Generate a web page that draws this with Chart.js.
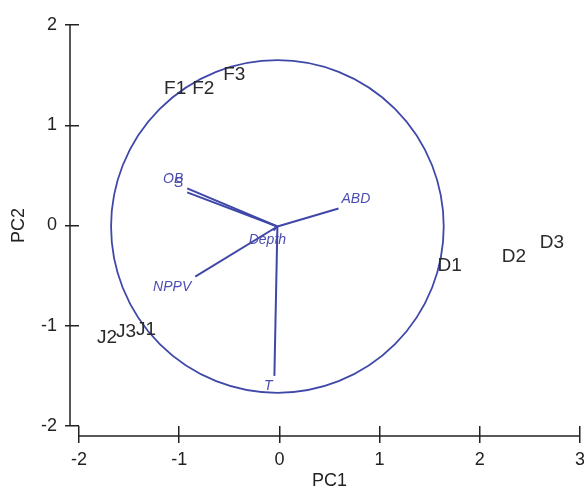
<!DOCTYPE html>
<html>
<head>
<meta charset="utf-8">
<script src="https://cdn.jsdelivr.net/npm/chart.js@4"></script>
<style>
  html, body { margin: 0; padding: 0; background: #fff; }
</style>
</head>
<body>
<canvas id="pcaChart" width="584" height="490"></canvas>
<script>
// sample scores
const sampleNames = ['F1', 'F2', 'F3', 'D1', 'D2', 'D3', 'J1', 'J2', 'J3'];
const samplePC1 = [-1.04, -0.76, -0.45, 1.70, 2.34, 2.72, -1.33, -1.72, -1.53];
const samplePC2 = [1.36, 1.36, 1.50, -0.40, -0.31, -0.17, -1.04, -1.12, -1.06];

// variable loadings (arrows)
const varNames = ['OB', 'S', 'ABD', 'Depth', 'NPPV', 'T'];
const varPC1 = [-0.92, -0.92, 0.59, -0.06, -0.84, -0.05];
const varPC2 = [0.37, 0.33, 0.17, -0.05, -0.51, -1.50];

// correlation circle
const origin = [-0.02, -0.01];
const circleRadius = 1.66;

// axes
const xTicks = [-2, -1, 0, 1, 2, 3];
const yTicks = [-2, -1, 0, 1, 2];

const axisColor = '#222';
const blue = '#3f48a8';
const tickFont = { family: "'Liberation Sans', Arial, sans-serif", size: 18 };

const biplotPlugin = {
  id: 'biplot',
  beforeDatasetsDraw(chart) {
    const ctx = chart.ctx;
    const xs = chart.scales.x;
    const ys = chart.scales.y;
    ctx.save();

    // detached axis lines
    ctx.strokeStyle = axisColor;
    ctx.lineWidth = 1.5;
    ctx.beginPath();
    const axX = chart.chartArea.left - 9;
    ctx.moveTo(axX, ys.getPixelForValue(yTicks[yTicks.length - 1]));
    ctx.lineTo(axX, ys.getPixelForValue(yTicks[0]));
    const axY = chart.chartArea.bottom + 10;
    ctx.moveTo(xs.getPixelForValue(xTicks[0]), axY);
    ctx.lineTo(xs.getPixelForValue(xTicks[xTicks.length - 1]), axY);
    ctx.stroke();

    // circle
    const cx = xs.getPixelForValue(origin[0]);
    const cy = ys.getPixelForValue(origin[1]);
    const r = xs.getPixelForValue(circleRadius) - xs.getPixelForValue(0);
    ctx.strokeStyle = blue;
    ctx.lineWidth = 1.8;
    ctx.beginPath();
    ctx.arc(cx, cy, r, 0, Math.PI * 2);
    ctx.stroke();
    ctx.restore();
  },
  afterDatasetsDraw(chart) {
    const ctx = chart.ctx;
    const xs = chart.scales.x;
    const ys = chart.scales.y;
    ctx.save();

    // sample labels
    ctx.fillStyle = '#2a2a2a';
    ctx.font = "19px 'Liberation Sans', Arial, sans-serif";
    ctx.textAlign = 'center';
    ctx.textBaseline = 'middle';
    sampleNames.forEach((name, i) => {
      ctx.fillText(name, xs.getPixelForValue(samplePC1[i]), ys.getPixelForValue(samplePC2[i]));
    });

    // arrow labels, just past the tip
    ctx.fillStyle = '#4a4cae';
    ctx.font = "italic 14px 'Liberation Sans', Arial, sans-serif";
    varNames.forEach((name, i) => {
      const dx = varPC1[i] - origin[0];
      const dy = varPC2[i] - origin[1];
      let px = xs.getPixelForValue(varPC1[i]);
      let py = ys.getPixelForValue(varPC2[i]);
      if (Math.abs(dx) < 0.1) { ctx.textAlign = 'center'; px -= 6; }
      else if (dx > 0) { ctx.textAlign = 'left'; px += 3; }
      else { ctx.textAlign = 'right'; px -= 4; }
      if (dy > 0) { ctx.textBaseline = 'bottom'; py -= 2; }
      else { ctx.textBaseline = 'top'; py += 3; }
      ctx.fillText(name, px, py);
    });
    ctx.restore();
  }
};

const datasets = [{
  label: 'Samples',
  data: sampleNames.map((n, i) => ({ x: samplePC1[i], y: samplePC2[i] })),
  pointRadius: 0
}];
varNames.forEach((name, i) => {
  datasets.push({
    label: name,
    data: [{ x: origin[0], y: origin[1] }, { x: varPC1[i], y: varPC2[i] }],
    showLine: true,
    borderColor: blue,
    borderWidth: 2,
    pointRadius: 0
  });
});

new Chart(document.getElementById('pcaChart'), {
  type: 'scatter',
  data: { datasets },
  options: {
    responsive: false,
    animation: false,
    layout: { autoPadding: false, padding: { top: 25, right: 4, left: 0, bottom: 0 } },
    plugins: {
      legend: { display: false },
      tooltip: { enabled: false }
    },
    scales: {
      x: {
        type: 'linear',
        min: xTicks[0],
        max: xTicks[xTicks.length - 1],
        afterFit: s => { s.height = 64; s.paddingLeft = 0; s.paddingRight = 0; },
        afterBuildTicks: s => { s.ticks = xTicks.map(v => ({ value: v })); },
        border: { display: false },
        grid: { drawOnChartArea: false, drawTicks: true, tickLength: 17, color: axisColor, lineWidth: 1.5 },
        ticks: { color: axisColor, font: tickFont, padding: 6, maxRotation: 0 },
        title: { display: true, text: 'PC1', color: axisColor, font: { ...tickFont, lineHeight: 1 }, padding: 0 }
      },
      y: {
        type: 'linear',
        min: yTicks[0],
        max: yTicks[yTicks.length - 1],
        afterFit: s => { s.width = 79; s.paddingTop = 0; s.paddingBottom = 0; },
        afterBuildTicks: s => { s.ticks = yTicks.map(v => ({ value: v })); },
        border: { display: false },
        grid: { drawOnChartArea: false, drawTicks: true, tickLength: 14, color: axisColor, lineWidth: 1.5 },
        ticks: { color: axisColor, font: tickFont, padding: 8 },
        title: { display: true, text: 'PC2', color: axisColor, font: { ...tickFont, lineHeight: 1 }, padding: { top: 10, bottom: 0 } }
      }
    }
  },
  plugins: [biplotPlugin]
});
</script>
</body>
</html>
